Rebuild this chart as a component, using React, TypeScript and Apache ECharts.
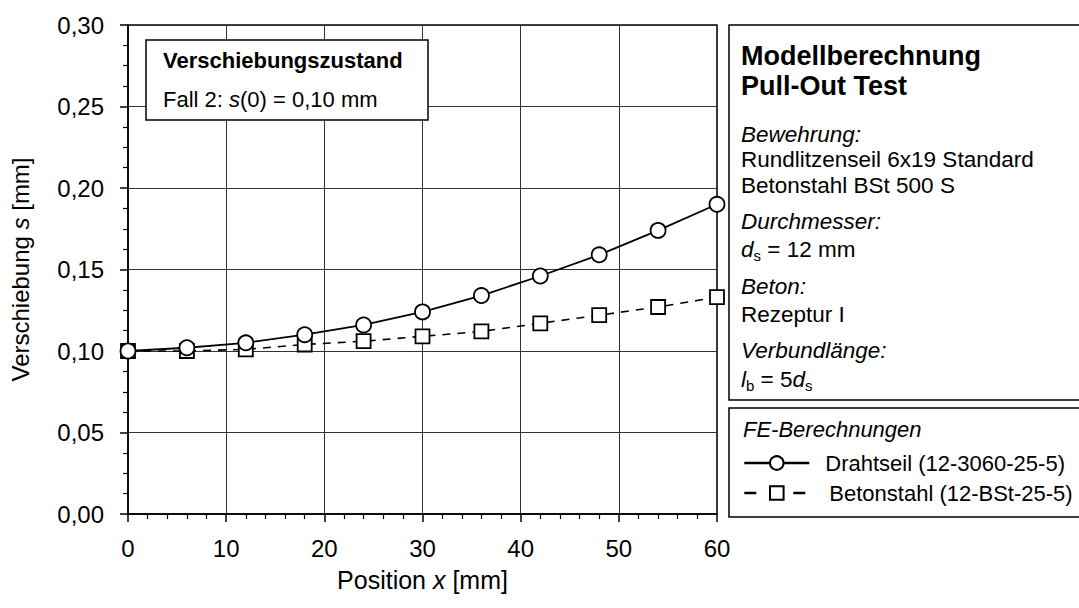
import React, { useEffect, useRef } from "react";
import * as echarts from "echarts";

const positions = [0, 6, 12, 18, 24, 30, 36, 42, 48, 54, 60];
const drahtseil = [0.1, 0.102, 0.105, 0.11, 0.116, 0.124, 0.134, 0.146, 0.159, 0.174, 0.19];
const betonstahl = [0.1, 0.1, 0.101, 0.104, 0.106, 0.109, 0.112, 0.117, 0.122, 0.127, 0.133];
const seriesNames = ["Drahtseil (12-3060-25-5)", "Betonstahl (12-BSt-25-5)"];

const FONT = "'Liberation Sans', Arial, sans-serif";

export default function App() {
  const ref = useRef<HTMLDivElement>(null);
  useEffect(() => {
    document.body.style.margin = "0";
    const chart = echarts.init(ref.current!, null, { renderer: "svg" });
    const txt = (x: number, y: number, text: string, size: number, extra: any = {}) => ({
      type: "text",
      x,
      y,
      z: 100,
      style: {
        text,
        fontFamily: FONT,
        fontSize: size,
        fill: "#000",
        verticalAlign: "middle",
        align: "left",
        ...extra,
      },
    });
    const subRich = (size: number) => ({
      n: { fontFamily: FONT, fontSize: size, lineHeight: 28 },
      i: { fontFamily: FONT, fontSize: size, fontStyle: "italic", lineHeight: 28 },
      sub: { fontFamily: FONT, fontSize: 15, lineHeight: 15, verticalAlign: "bottom" },
    });
    const legendText = (pad: number) => ({
      fontFamily: FONT,
      fontSize: 22,
      color: "#000",
      lineHeight: 22,
      padding: [0, 0, 0, pad],
    });
    const option: any = {
      animation: false,
      backgroundColor: "#fff",
      textStyle: { fontFamily: FONT },
      grid: {
        left: 128,
        right: 362,
        top: 25,
        bottom: 94,
        show: true,
        borderColor: "#000",
        borderWidth: 1.5,
        backgroundColor: "transparent",
      },
      xAxis: {
        type: "value",
        min: 0,
        max: 60,
        interval: 10,
        name: "Position {i|x} [mm]",
        nameLocation: "middle",
        nameGap: 53,
        nameTextStyle: {
          fontFamily: FONT,
          fontSize: 25,
          color: "#000",
          rich: { i: { fontFamily: FONT, fontSize: 25, fontStyle: "italic", color: "#000" } },
        },
        axisLine: { lineStyle: { color: "#000", width: 1.5 } },
        axisTick: { show: true, inside: false, length: 8, lineStyle: { color: "#000", width: 1.5 } },
        minorTick: { show: true, splitNumber: 5, length: 5, lineStyle: { color: "#000", width: 1.2 } },
        axisLabel: { fontFamily: FONT, fontSize: 24, color: "#000", margin: 22 },
        splitLine: { show: true, lineStyle: { color: "#333", width: 1 } },
      },
      yAxis: {
        type: "value",
        min: 0,
        max: 0.3,
        interval: 0.05,
        name: "Verschiebung {i|s} [mm]",
        nameLocation: "middle",
        nameGap: 96,
        nameTextStyle: {
          fontFamily: FONT,
          fontSize: 24,
          color: "#000",
          rich: { i: { fontFamily: FONT, fontSize: 24, fontStyle: "italic", color: "#000" } },
        },
        axisLine: { show: true, lineStyle: { color: "#000", width: 1.5 } },
        axisTick: { show: true, inside: false, length: 8, lineStyle: { color: "#000", width: 1.5 } },
        minorTick: { show: true, splitNumber: 4, length: 5, lineStyle: { color: "#000", width: 1.2 } },
        axisLabel: {
          fontFamily: FONT,
          fontSize: 24,
          color: "#000",
          margin: 24,
          formatter: (v: number) => v.toFixed(2).replace(".", ","),
        },
        splitLine: { show: true, lineStyle: { color: "#333", width: 1 } },
      },
      legend: {
        orient: "vertical",
        z: 200,
        left: 743,
        top: 452,
        padding: 0,
        itemWidth: 65,
        itemHeight: 17,
        itemGap: 8,
        textStyle: legendText(11),
        data: [
          { name: seriesNames[0], lineStyle: { width: 2.6 } },
          {
            name: seriesNames[1],
            lineStyle: { type: [12, 37], width: 2.6 },
            textStyle: legendText(15),
          },
        ],
      },
      series: [
        {
          name: seriesNames[1],
          type: "line",
          data: positions.map((x, i) => [x, betonstahl[i]]),
          symbol: "rect",
          symbolSize: 14,
          z: 3,
          lineStyle: { color: "#000", width: 1.6, type: [8, 7] },
          itemStyle: { color: "#fff", borderColor: "#000", borderWidth: 1.8 },
        },
        {
          name: seriesNames[0],
          type: "line",
          data: positions.map((x, i) => [x, drahtseil[i]]),
          symbol: "circle",
          symbolSize: 15,
          z: 4,
          lineStyle: { color: "#000", width: 1.8 },
          itemStyle: { color: "#fff", borderColor: "#000", borderWidth: 1.8 },
        },
      ],
      graphic: [
        {
          type: "rect",
          z: 90,
          shape: { x: 146, y: 40, width: 282, height: 80 },
          style: { fill: "#fff", stroke: "#000", lineWidth: 1.5 },
        },
        txt(163, 60, "Verschiebungszustand", 22, { fontWeight: "bold" }),
        txt(163, 99, "Fall 2: {i|s}(0) = 0,10 mm", 22, { rich: subRich(22) }),
        {
          type: "rect",
          z: 90,
          shape: { x: 729, y: 25, width: 420, height: 375 },
          style: { fill: "#fff", stroke: "#000", lineWidth: 1.5 },
        },
        txt(741, 56, "Modellberechnung", 27, { fontWeight: "bold" }),
        txt(741, 86, "Pull-Out Test", 27, { fontWeight: "bold" }),
        txt(741, 134, "Bewehrung:", 22.5, { fontStyle: "italic" }),
        txt(741, 159, "Rundlitzenseil 6x19 Standard", 22.5),
        txt(741, 185, "Betonstahl BSt 500 S", 22.5),
        txt(741, 221, "Durchmesser:", 22.5, { fontStyle: "italic" }),
        txt(741, 249, "{i|d}{sub|s}{n| = 12 mm}", 22.5, { rich: subRich(22.5) }),
        txt(741, 286, "Beton:", 22.5, { fontStyle: "italic" }),
        txt(741, 314, "Rezeptur I", 22.5),
        txt(741, 350, "Verbundlänge:", 22.5, { fontStyle: "italic" }),
        txt(741, 379, "{i|l}{sub|b}{n| = 5}{i|d}{sub|s}", 22.5, { rich: subRich(22.5) }),
        {
          type: "rect",
          z: 90,
          shape: { x: 729, y: 408, width: 420, height: 109 },
          style: { fill: "#fff", stroke: "#000", lineWidth: 1.5 },
        },
        txt(743, 429, "FE-Berechnungen", 22, { fontStyle: "italic" }),
      ],
    };
    chart.setOption(option);
    return () => chart.dispose();
  }, []);
  return (
    <div
      ref={ref}
      style={{ width: 1079, height: 608, position: "absolute", left: 0, top: 0 }}
    />
  );
}
